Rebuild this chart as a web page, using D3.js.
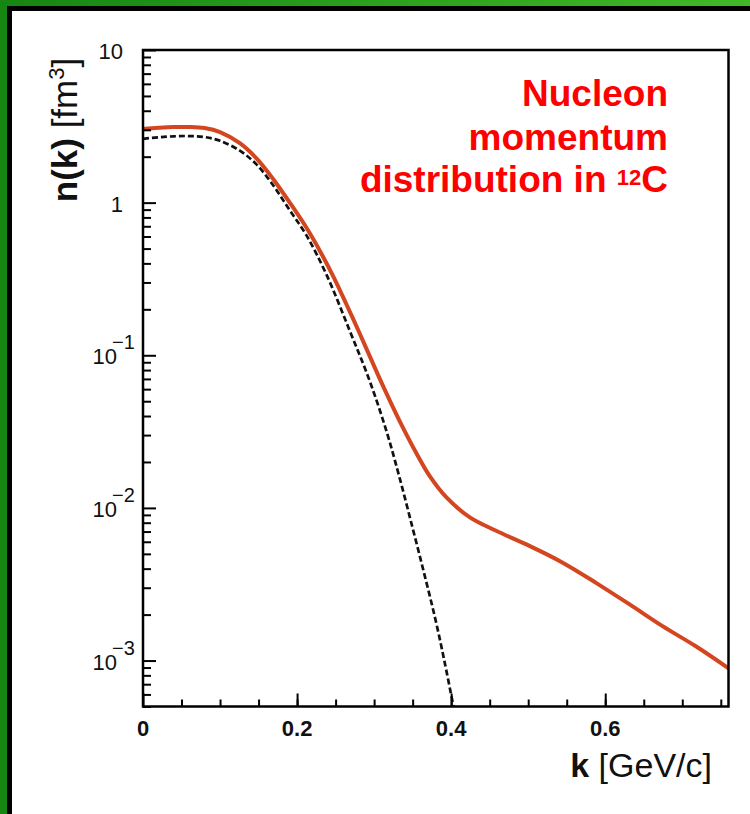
<!DOCTYPE html>
<html>
<head>
<meta charset="utf-8">
<script src="https://cdn.jsdelivr.net/npm/d3@7"></script>
<style>
  html, body { margin: 0; padding: 0; background: #fff; }
  svg text { font-family: "Liberation Sans", Arial, Helvetica, sans-serif; }
</style>
</head>
<body>
<svg id="chart" width="750" height="814"></svg>
<script>
// full distribution (red), k in GeV/c, n(k) in fm^3
var kFull = [0, 0.02, 0.04, 0.06, 0.08, 0.10, 0.1257, 0.1473, 0.1689, 0.1905, 0.2122, 0.23,
    0.2476, 0.264, 0.281, 0.296, 0.3115, 0.333, 0.3547, 0.372, 0.3936, 0.4238, 0.4584, 0.5016, 0.5448,
    0.588, 0.6312, 0.6744, 0.7176, 0.76];
var nFull = [3.04, 3.09, 3.126, 3.13, 3.08, 2.9, 2.45, 1.95, 1.43, 1.0, 0.684, 0.479,
    0.324, 0.216, 0.14, 0.0944, 0.063, 0.0372, 0.0229, 0.0162, 0.01175, 0.0087, 0.00708, 0.00564, 0.00438,
    0.00323, 0.00234, 0.00168, 0.00124, 0.00089];

// mean field part (black dashed)
var kMf = [0, 0.02, 0.04, 0.06, 0.08, 0.10, 0.1257, 0.1473, 0.1689, 0.1905, 0.2122, 0.238,
    0.2683, 0.2942, 0.3159, 0.333, 0.3504, 0.3655, 0.38, 0.392, 0.403];
var nMf = [2.62, 2.68, 2.72, 2.73, 2.69, 2.54, 2.19, 1.78, 1.30, 0.89, 0.61, 0.339,
    0.145, 0.068, 0.032, 0.0158, 0.00724, 0.00363, 0.00182, 0.00095, 0.0005];

var xMajor = [0, 0.2, 0.4, 0.6];
var xMinor = d3.range(0.05, 0.76, 0.05);
var xLabels = ["0", "0.2", "0.4", "0.6"];
var yDecades = [10, 1, 0.1, 0.01, 0.001];
var yExps = ["", "", "\u22121", "\u22122", "\u22123"];
var yBase = ["10", "1", "10", "10", "10"];

var svg = d3.select("#chart");

// cadre vert + noir (haut et gauche seulement)
var grad = svg.append("defs").append("linearGradient").attr("id", "vert")
    .attr("x1", "0").attr("x2", "1").attr("y1", "0").attr("y2", "0");
grad.append("stop").attr("offset", "0").attr("stop-color", "#168612");
grad.append("stop").attr("offset", "1").attr("stop-color", "#42b827");
svg.append("rect").attr("x", 0).attr("y", 0).attr("width", 750).attr("height", 7).attr("fill", "url(#vert)");
svg.append("rect").attr("x", 0).attr("y", 0).attr("width", 7).attr("height", 814).attr("fill", "#168612");
svg.append("rect").attr("x", 7).attr("y", 6).attr("width", 743).attr("height", 5).attr("fill", "#000");
svg.append("rect").attr("x", 7).attr("y", 6).attr("width", 5).attr("height", 808).attr("fill", "#000");

var x = d3.scaleLinear().domain([0, 0.76]).range([143, 728.5]);
var y = d3.scaleLog().domain([5e-4, 10]).range([706.5, 50]);

svg.append("clipPath").attr("id", "zone").append("rect")
    .attr("x", x(0)).attr("y", y(10)).attr("width", x(0.76) - x(0)).attr("height", y(5e-4) - y(10));

var ligne = d3.line()
    .x(function(d) { return x(d[0]); })
    .y(function(d) { return y(d[1]); })
    .curve(d3.curveCatmullRom.alpha(0.5));

var g = svg.append("g").attr("clip-path", "url(#zone)");
g.append("path")
    .datum(d3.zip(kFull, nFull))
    .attr("d", ligne)
    .attr("fill", "none").attr("stroke", "#d4461f").attr("stroke-width", 4);
g.append("path")
    .datum(d3.zip(kMf, nMf))
    .attr("d", ligne)
    .attr("fill", "none").attr("stroke", "#111").attr("stroke-width", 2.7)
    .attr("stroke-dasharray", "6,3");

// ticks (vers l'intérieur)
function ticks(axe, where) {
    var a = svg.append("g").attr("transform", where).call(axe);
    a.select(".domain").remove();
    a.selectAll("text").remove();
    a.selectAll("line").attr("stroke", "#000").attr("stroke-width", 2);
}
ticks(d3.axisBottom(x).tickValues(xMajor).tickSize(-13), "translate(0," + y(5e-4) + ")");
ticks(d3.axisBottom(x).tickValues(xMinor).tickSize(-7), "translate(0," + y(5e-4) + ")");

var yMinor = [];
[1e-4, 1e-3, 1e-2, 1e-1, 1].forEach(function(dec) {
    d3.range(2, 10).forEach(function(m) {
        var v = dec * m;
        if (v >= 5e-4 && v < 10) yMinor.push(v);
    });
});
ticks(d3.axisLeft(y).tickValues(yDecades).tickSize(-13), "translate(" + x(0) + ",0)");
ticks(d3.axisLeft(y).tickValues(yMinor).tickSize(-8), "translate(" + x(0) + ",0)");

// cadre du graphe
svg.append("rect")
    .attr("x", x(0)).attr("y", y(10))
    .attr("width", x(0.76) - x(0)).attr("height", y(5e-4) - y(10))
    .attr("fill", "none").attr("stroke", "#000").attr("stroke-width", 2.5);

// labels axe x
svg.selectAll(".xlab").data(xMajor).enter().append("text")
    .attr("class", "xlab")
    .attr("x", function(d) { return x(d); })
    .attr("y", y(5e-4) + 29)
    .attr("text-anchor", "middle")
    .attr("font-size", 22).attr("font-weight", "bold").attr("fill", "#111")
    .text(function(d, i) { return xLabels[i]; });

// labels axe y
yDecades.forEach(function(v, i) {
    if (yExps[i] === "") {
        svg.append("text").attr("x", 123).attr("y", y(v) + 9)
            .attr("text-anchor", "end").attr("font-size", 22).attr("fill", "#111")
            .text(yBase[i]);
    } else {
        svg.append("text").attr("x", 117).attr("y", y(v) + 9)
            .attr("text-anchor", "end").attr("font-size", 22).attr("fill", "#111")
            .text(yBase[i]);
        svg.append("text").attr("x", 112).attr("y", y(v) - 6)
            .attr("font-size", 20).attr("fill", "#111")
            .text(yExps[i]);
    }
});

// titre axe y
var ty = svg.append("text")
    .attr("transform", "translate(77,130) rotate(-90)")
    .attr("text-anchor", "middle").attr("font-size", 35).attr("fill", "#111");
ty.append("tspan").attr("font-weight", "bold").text("n(k)");
ty.append("tspan").text(" [fm");
ty.append("tspan").attr("font-size", 22).attr("dy", -13).text("3");
ty.append("tspan").attr("dy", 13).text("]");

// titre axe x
var tx = svg.append("text")
    .attr("x", 712).attr("y", 777)
    .attr("text-anchor", "end").attr("font-size", 34).attr("fill", "#111");
tx.append("tspan").attr("font-weight", "bold").text("k");
tx.append("tspan").text(" [GeV/c]");

// annotation rouge
var rouge = svg.append("g").attr("fill", "#ff0000").attr("font-weight", "bold").attr("font-size", 37);
rouge.append("text").attr("x", 668).attr("y", 106).attr("text-anchor", "end").text("Nucleon");
rouge.append("text").attr("x", 668).attr("y", 150).attr("text-anchor", "end").text("momentum");
var t3 = rouge.append("text").attr("x", 668).attr("y", 192).attr("text-anchor", "end");
t3.append("tspan").text("distribution in ");
t3.append("tspan").attr("font-size", 22).attr("dy", -7).text("12");
t3.append("tspan").attr("dy", 7).text("C");
</script>
</body>
</html>
